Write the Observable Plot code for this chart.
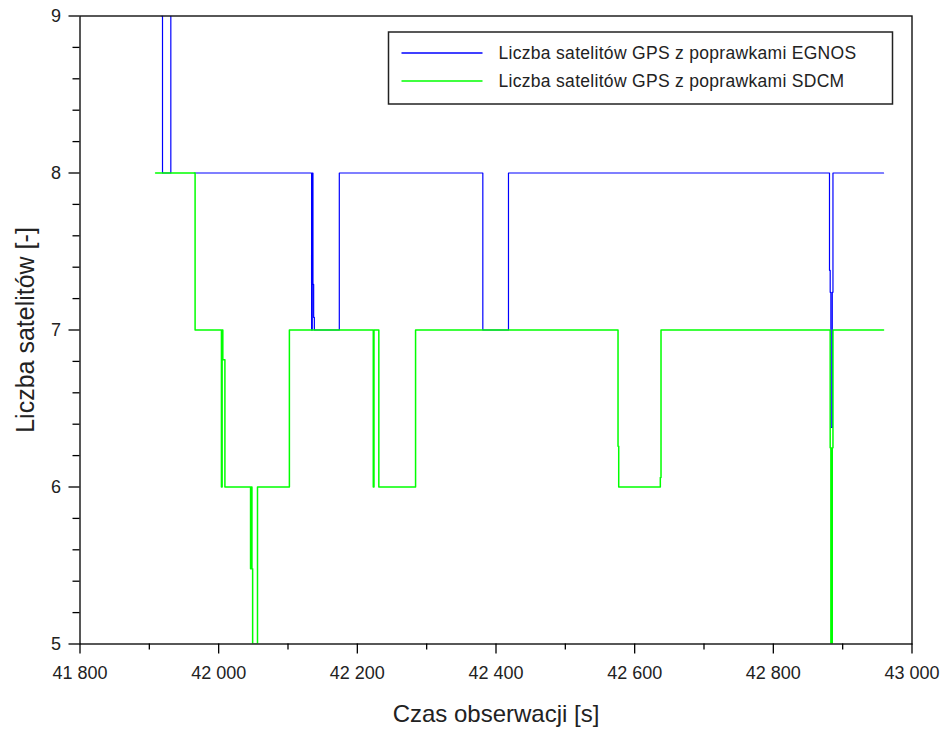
<!DOCTYPE html>
<html>
<head>
<meta charset="utf-8">
<script src="https://cdn.jsdelivr.net/npm/d3@7"></script>
<script src="https://cdn.jsdelivr.net/npm/@observablehq/plot@0.6"></script>
<style>
  html, body { margin: 0; padding: 0; background: #fff; }
  #chart { width: 947px; height: 729px; }
</style>
</head>
<body>
<div id="chart"></div>
<script>
// ---- data ----
const seriesNames = [
  "Liczba satelitów GPS z poprawkami EGNOS",
  "Liczba satelitów GPS z poprawkami SDCM"
];
const seriesColors = ["#0000ff", "#00ff00"];

// EGNOS series: value holds from time t [s] until the next t; NaN = gap in data
const egnosT = [41918, 41919, 41931, 41933, 41965, 42134, 42135, 42136, 42137, 42138, 42174,
                42381, 42418, 42881, 42882, 42883, 42885, 42886, 42959];
const egnosV = [9, 8, 9, NaN, 8, 7, 8, 7.29, 7.08, 7, 8,
                7, 8, 7.38, 7.24, 6.38, 7.24, 8, 8];

// SDCM series
const sdcmT = [41909, 41966, 42004, 42005, 42006, 42009, 42046, 42047, 42048, 42049, 42056, 42102,
               42223, 42224, 42231, 42284, 42576, 42577, 42637, 42638, 42882, 42883, 42885, 42886, 42959];
const sdcmV = [8, 7, 6, 7, 6.81, 6, 5.48, 6, 5.48, 5, 6, 7,
               6, 7, 6, 7, 6.26, 6, 6.06, 7, 6.25, 5, 6.25, 7, 7];

// axes
const xDomain = [41800, 43000];
const yDomain = [5, 9];
const xTicks = [41800, 42000, 42200, 42400, 42600, 42800, 43000];
const xMinorTicks = [41900, 42100, 42300, 42500, 42700, 42900];
const yTicks = [5, 6, 7, 8, 9];
const yMinorTicks = [5.2, 5.4, 5.6, 5.8, 6.2, 6.4, 6.6, 6.8, 7.2, 7.4, 7.6, 7.8, 8.2, 8.4, 8.6, 8.8];
const xLabel = "Czas obserwacji [s]";
const yLabel = "Liczba satelitów [-]";

// ---- build ----
const egnos = egnosT.map((t, i) => ({t, v: egnosV[i]}));
const sdcm = sdcmT.map((t, i) => ({t, v: sdcmV[i]}));
const fmt = d => d3.format(",")(d).replace(/,/g, " ");
const font = "'Liberation Sans', Arial, Helvetica, sans-serif";

const W = 947, H = 729;
const mL = 79.5, mR = 35.5, mT = 15.5, mB = 85.5;

const chart = Plot.plot({
  width: W,
  height: H,
  marginLeft: mL,
  marginRight: mR,
  marginTop: mT,
  marginBottom: mB,
  style: {fontFamily: font, background: "#fff", color: "#000", overflow: "visible"},
  x: {domain: xDomain},
  y: {domain: yDomain},
  marks: [
    Plot.lineY(egnos, {x: "t", y: "v", curve: "step-after", stroke: seriesColors[0], strokeWidth: 1.2, clip: true}),
    Plot.lineY(sdcm, {x: "t", y: "v", curve: "step-after", stroke: seriesColors[1], strokeWidth: 1.5, clip: true}),
    Plot.frame({stroke: "#111", strokeWidth: 1.4}),
    Plot.axisX({ticks: xMinorTicks, tickSize: 6, tickFormat: () => "", label: null, strokeWidth: 1.3}),
    Plot.axisX({ticks: xTicks, tickSize: 10, tickPadding: 12, tickFormat: fmt, label: null,
                fontSize: 18, fill: "#222", strokeWidth: 1.3}),
    Plot.axisY({ticks: yMinorTicks, tickSize: 7, tickFormat: () => "", label: null, strokeWidth: 1.3}),
    Plot.axisY({ticks: yTicks, tickSize: 11, tickPadding: 8, tickFormat: d => String(d), label: null,
                fontSize: 18, fill: "#222", strokeWidth: 1.3}),
    Plot.text([xLabel], {text: d => d, frameAnchor: "bottom", dy: 70, fontSize: 24, fill: "#222",
                         lineAnchor: "middle", textAnchor: "middle"}),
    Plot.text([yLabel], {text: d => d, frameAnchor: "left", dx: -54.5, rotate: -90, fontSize: 25, fill: "#222",
                         lineAnchor: "middle", textAnchor: "middle"})
  ]
});

document.getElementById("chart").appendChild(chart);

// ---- legend box inside the plot area (top-right) ----
const svg = d3.select(chart);
const lg = svg.append("g").attr("font-family", font).attr("text-anchor", "start");
const boxX = 388.5, boxY = 32, boxW = 504, boxH = 72;
lg.append("rect")
  .attr("x", boxX).attr("y", boxY).attr("width", boxW).attr("height", boxH)
  .attr("fill", "#fff").attr("stroke", "#222").attr("stroke-width", 1.5);
seriesNames.forEach((name, i) => {
  const cy = boxY + 21 + i * 28;
  lg.append("line")
    .attr("x1", boxX + 13).attr("x2", boxX + 94)
    .attr("y1", cy).attr("y2", cy)
    .attr("stroke", seriesColors[i]).attr("stroke-width", 1.5);
  lg.append("text")
    .attr("x", boxX + 110).attr("y", cy).attr("dy", "0.35em")
    .attr("text-anchor", "start")
    .attr("font-size", 17.5).attr("fill", "#222")
    .attr("letter-spacing", "0.3px")
    .text(name);
});
</script>
</body>
</html>
